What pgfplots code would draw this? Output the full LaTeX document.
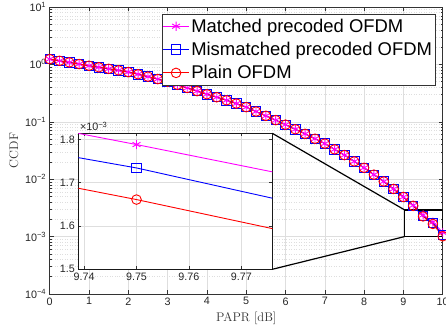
\documentclass[border=0pt]{standalone}
\usepackage{fontspec}
\setsansfont{Liberation Sans}
\usepackage{pgfplots}
\usepackage{pgfplotstable}
\pgfplotsset{compat=1.18}

\pgfplotstableread{
x     m         mm        p
0     1.236     1.236     1.236
0.25  1.156     1.156     1.156
0.5   1.084     1.084     1.084
0.75  1.014     1.014     1.014
1     0.948     0.948     0.948
1.25  0.891     0.891     0.891
1.5   0.838     0.838     0.838
1.75  0.787     0.787     0.787
2     0.735     0.735     0.735
2.25  0.673     0.673     0.673
2.5   0.612     0.612     0.612
2.75  0.555     0.555     0.555
3     0.501     0.501     0.501
3.25  0.442     0.442     0.442
3.5   0.389     0.389     0.389
3.75  0.343     0.343     0.343
4     0.302     0.302     0.302
4.25  0.268     0.268     0.268
4.5   0.237     0.237     0.237
4.75  0.208     0.208     0.208
5     0.180     0.180     0.180
5.25  0.151     0.151     0.151
5.5   0.127     0.127     0.127
5.75  0.107     0.107     0.107
6     0.0891    0.0891    0.0891
6.25  0.0741    0.0741    0.0741
6.5   0.0617    0.0617    0.0617
6.75  0.0507    0.0507    0.0507
7     0.0417    0.0417    0.0417
7.25  0.0331    0.0331    0.0331
7.5   0.0263    0.0263    0.0263
7.75  0.0204    0.0204    0.0204
8     0.0158    0.0158    0.0158
8.25  0.0120    0.0120    0.0120
8.5   0.00912   0.00912   0.00912
8.75  0.00676   0.00676   0.00676
9     0.00490   0.00490   0.00490
9.25  0.00350   0.00345   0.00343
9.5   0.00237   0.00227   0.00225
9.75  0.001788  0.001734  0.001661
10    0.00118   0.00106   0.001014
}\ccdf

\definecolor{mag}{rgb}{1,0,1}
\definecolor{blu}{rgb}{0,0,1}
\definecolor{rd}{rgb}{1,0,0}

\pgfplotsset{
  mstyle/.style={mag, line width=0.9bp, mark=asterisk, mark size=4.6bp, mark options={solid, line width=0.9bp}},
  bstyle/.style={blu, line width=0.9bp, mark=square, mark size=4.7bp, mark options={solid, line width=0.9bp}},
  rstyle/.style={rd, line width=0.9bp, mark=o, mark size=4.8bp, mark options={solid, line width=0.9bp}},
}

\begin{document}
\begin{tikzpicture}
\begin{axis}[
  name=main,
  at={(0,0)}, anchor=south west,
  scale only axis, width=393bp, height=287bp,
  xmin=0, xmax=10, ymode=log, ymin=1e-4, ymax=10,
  xtick={0,1,...,10},
  ytick={1e-4,1e-3,1e-2,1e-1,1,10},
  yticklabels={10\textsuperscript{−4},10\textsuperscript{−3},10\textsuperscript{−2},10\textsuperscript{−1},10\textsuperscript{0},10\textsuperscript{1}},
  /pgf/number format/assume math mode=true,
  ticklabel style={font=\sffamily\fontsize{10.8}{12}\selectfont, text=black!85},
  grid=both,
  major grid style={black!13, line width=0.5bp},
  minor grid style={black!13, line width=0.5bp, dotted},
  tick align=inside,
  major tick length=4bp, minor tick length=2.2bp,
  every tick/.style={black!80, line width=0.5bp},
  axis line style={black!80, line width=0.6bp},
  xlabel={PAPR [dB]}, ylabel={CCDF},
  label style={font=\fontsize{12.6}{14}\selectfont, text=black!80},
  legend style={at={(1,1)}, xshift=-7.4bp, yshift=-7bp, anchor=north east,
    font=\sffamily\fontsize{18.5}{21}\selectfont, draw=black!80, line width=0.6bp,
    inner xsep=1bp, inner ysep=2.5bp, row sep=4.5bp},
  legend cell align=left,
  legend image code/.code={\draw[mark repeat=2, mark phase=2] plot coordinates {(0bp,0bp) (12.8bp,0bp) (25.6bp,0bp)};},
]
\addplot[mstyle] table[x=x, y=m] {\ccdf};
\addlegendentry{Matched precoded OFDM}
\addplot[bstyle] table[x=x, y=mm] {\ccdf};
\addlegendentry{Mismatched precoded OFDM}
\addplot[rstyle] table[x=x, y=p] {\ccdf};
\addlegendentry{Plain OFDM}
\draw[black, line width=1.3bp] (axis cs:9.03,1e-3) rectangle (axis cs:10,2.92e-3);
\coordinate (bTL) at (axis cs:9.03,2.92e-3);
\coordinate (bBL) at (axis cs:9.03,1e-3);
\end{axis}

\begin{axis}[
  name=inset,
  at={(28.6bp,24.7bp)}, anchor=south west,
  scale only axis, width=194bp, height=136bp,
  xmin=9.7389, xmax=9.7759, ymin=1.5, ymax=1.814,
  xtick={9.74,9.75,9.76,9.77},
  ytick={1.5,1.6,1.7,1.8},
  restrict x to domain=9.4:10.1,
  axis background/.style={fill=white},
  /pgf/number format/assume math mode=true,
  xticklabel style={/pgf/number format/fixed, /pgf/number format/precision=2, /pgf/number format/fixed zerofill},
  yticklabel style={/pgf/number format/fixed, /pgf/number format/precision=1, /pgf/number format/fixed zerofill},
  ticklabel style={font=\sffamily\fontsize{10.8}{12}\selectfont, text=black!85},
  grid=major,
  major grid style={black!13, line width=0.5bp},
  tick align=inside,
  major tick length=3bp,
  every tick/.style={black!80, line width=0.5bp},
  axis line style={black!90, line width=0.7bp},
]
\addplot[mstyle] table[x=x, y expr=\thisrow{m}*1000] {\ccdf};
\addplot[bstyle] table[x=x, y expr=\thisrow{mm}*1000] {\ccdf};
\addplot[rstyle] table[x=x, y expr=\thisrow{p}*1000] {\ccdf};
\end{axis}

\node[anchor=south west, inner sep=0pt, font=\sffamily\fontsize{10.8}{12}\selectfont, text=black!85] at ([xshift=1.5bp, yshift=2bp]inset.north west) {×10\textsuperscript{−3}};
\draw[black, line width=1.2bp] (inset.north east) -- (bTL);
\draw[black, line width=1.2bp] (inset.south east) -- (bBL);

\pgfresetboundingbox
\useasboundingbox (-49.7bp,-39bp) rectangle (396.3bp,294bp);
\end{tikzpicture}
\end{document}
